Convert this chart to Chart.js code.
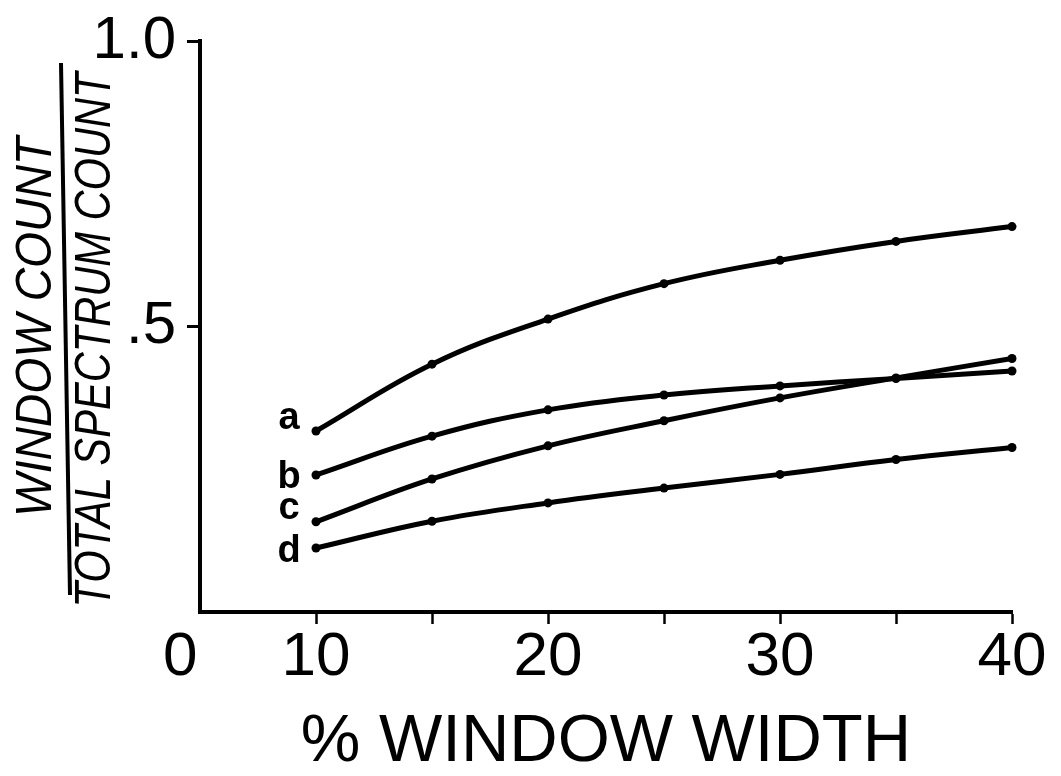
<!DOCTYPE html>
<html>
<head>
<meta charset="utf-8">
<script src="https://cdn.jsdelivr.net/npm/chart.js@4/dist/chart.umd.min.js"></script>
<style>
  html, body { margin: 0; padding: 0; background: #ffffff; }
  #wrap { width: 1061px; height: 776px; position: relative; }
</style>
</head>
<body>
<div id="wrap"><canvas id="c" width="1061" height="776"></canvas></div>
<script>
// ---- data ----
const widths  = [10, 15, 20, 25, 30, 35, 40];               // % window width
const seriesA = [0.317, 0.434, 0.513, 0.575, 0.616, 0.649, 0.675];
const seriesB = [0.240, 0.308, 0.354, 0.380, 0.396, 0.409, 0.422];
const seriesC = [0.158, 0.233, 0.291, 0.335, 0.375, 0.410, 0.444];
const seriesD = [0.112, 0.159, 0.191, 0.217, 0.241, 0.267, 0.288];
const seriesNames = ['a', 'b', 'c', 'd'];

// broken x axis: the origin label "0" sits just left of the axis corner
const xTickValues = [4.15, 10, 15, 20, 25, 30, 35, 40];
const xTickLabels = ['0', '10', '', '20', '', '30', '', '40'];
const yTickValues = [0.5, 1.0];
const yTickLabels = ['.5', '1.0'];

const xTitle = '% WINDOW WIDTH';
const yTitleTop = 'WINDOW COUNT';
const yTitleBottom = 'TOTAL SPECTRUM COUNT';

// ---- build datasets ----
const allSeries = [seriesA, seriesB, seriesC, seriesD];
const datasets = allSeries.map((vals, i) => ({
  label: seriesNames[i],
  data: widths.map((w, j) => ({ x: w, y: vals[j] })),
  borderColor: '#000',
  backgroundColor: '#000',
  borderWidth: 5,
  pointRadius: 4.5,
  pointBackgroundColor: '#000',
  pointBorderWidth: 0,
  tension: 0.4,
  fill: false,
  clip: false
}));

const labelOffsets = [[-27, -2], [-27, 13], [-27, -3], [-27, 14]];

const decorPlugin = {
  id: 'decor',
  beforeDraw(chart) {
    const ctx = chart.ctx;
    ctx.save();
    ctx.fillStyle = '#ffffff';
    ctx.fillRect(0, 0, chart.width, chart.height);
    ctx.restore();
  },
  afterDraw(chart) {
    const ctx = chart.ctx;
    ctx.save();
    ctx.fillStyle = '#000';
    // series letters next to first points
    ctx.font = 'bold 38px "Liberation Sans", Arial, sans-serif';
    ctx.textAlign = 'center';
    ctx.textBaseline = 'alphabetic';
    chart.data.datasets.forEach((ds, i) => {
      const p = chart.getDatasetMeta(i).data[0];
      ctx.fillText(ds.label, p.x + labelOffsets[i][0], p.y + labelOffsets[i][1]);
    });
    // y title as a fraction
    ctx.font = 'italic 50px "Liberation Sans", Arial, sans-serif';
    ctx.textBaseline = 'middle';
    ctx.save();
    ctx.translate(37, 327);
    ctx.rotate(-Math.PI / 2);
    ctx.fillText(yTitleTop, 0, 0, 380);
    ctx.restore();
    ctx.save();
    ctx.translate(96, 340);
    ctx.rotate(-Math.PI / 2);
    ctx.fillText(yTitleBottom, 0, 0, 535);
    ctx.restore();
    ctx.strokeStyle = '#000';
    ctx.lineWidth = 4;
    ctx.beginPath();
    ctx.moveTo(61, 63);
    ctx.lineTo(70, 595);
    ctx.stroke();
    ctx.restore();
  }
};

new Chart(document.getElementById('c'), {
  type: 'line',
  data: { datasets },
  plugins: [decorPlugin],
  options: {
    responsive: false,
    animation: false,
    devicePixelRatio: 1,
    layout: { padding: { left: 0, right: 49, top: 35, bottom: 0 } },
    plugins: { legend: { display: false }, tooltip: { enabled: false } },
    scales: {
      x: {
        type: 'linear',
        min: 5,
        max: 40,
        afterBuildTicks: s => { s.ticks = xTickValues.map(v => ({ value: v })); },
        afterFit: s => { s.height = 164; },
        ticks: {
          autoSkip: false,
          maxRotation: 0,
          callback: (v, i) => xTickLabels[i],
          font: { family: '"Liberation Sans Narrow", "Liberation Sans", sans-serif', size: 62, lineHeight: 1 },
          color: '#000',
          padding: 3
        },
        grid: {
          drawOnChartArea: false,
          tickLength: 12,
          tickWidth: 2.5,
          tickColor: c => (c.tick && c.tick.value < 5) ? 'rgba(0,0,0,0)' : '#000'
        },
        border: { display: true, color: '#000', width: 4 },
        title: {
          display: true,
          text: xTitle,
          color: '#000',
          font: { family: '"Liberation Sans", Arial, sans-serif', size: 67, lineHeight: 1 },
          padding: 0
        }
      },
      y: {
        type: 'linear',
        min: 0,
        max: 1,
        afterBuildTicks: s => { s.ticks = yTickValues.map(v => ({ value: v })); },
        afterFit: s => { s.width = 200; },
        ticks: {
          callback: (v, i) => yTickLabels[i],
          font: { family: '"Liberation Sans Narrow", "Liberation Sans", sans-serif', size: 60, lineHeight: 1 },
          color: '#000',
          padding: 11
        },
        grid: {
          drawOnChartArea: false,
          tickLength: 13,
          tickWidth: 3,
          tickColor: '#000'
        },
        border: { display: true, color: '#000', width: 4 }
      }
    }
  }
});
</script>
</body>
</html>
